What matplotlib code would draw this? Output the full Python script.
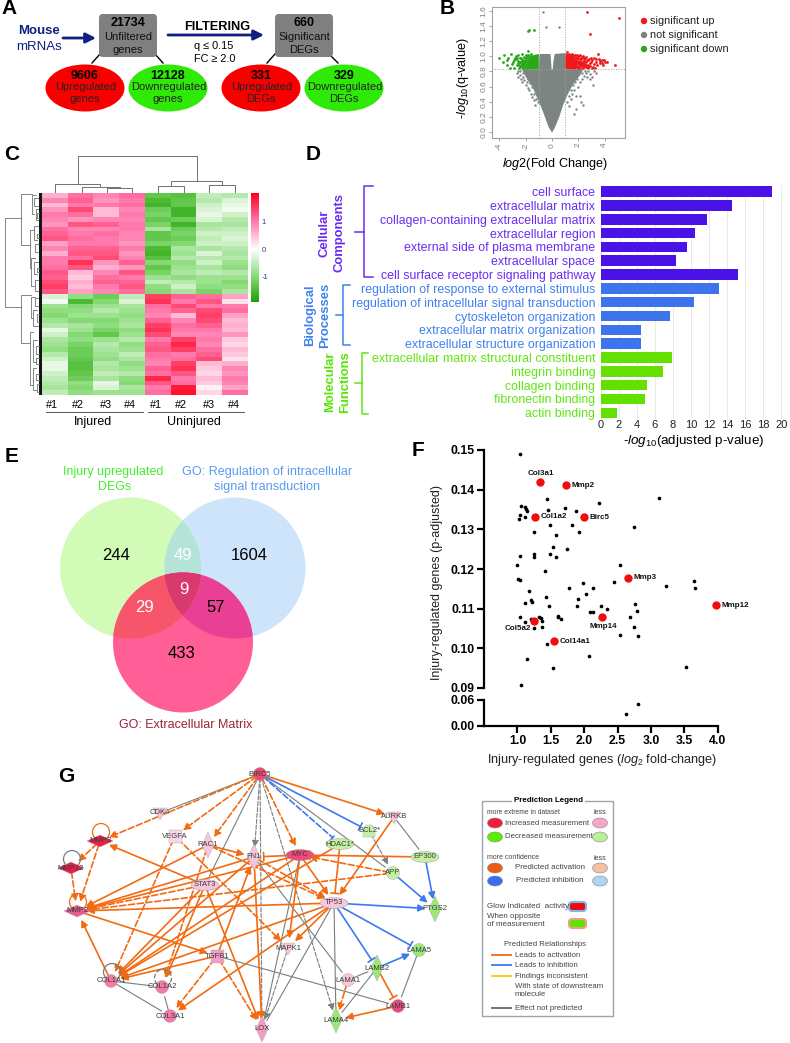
import numpy as np
import matplotlib
matplotlib.use('Agg')
import matplotlib.pyplot as plt
from matplotlib.patches import Circle, Ellipse, FancyBboxPatch, Polygon
from matplotlib.colors import LinearSegmentedColormap

plt.rcParams['font.family'] = ['Liberation Sans', 'DejaVu Sans']
plt.rcParams['mathtext.fontset'] = 'custom'
plt.rcParams['mathtext.rm'] = 'Liberation Sans'
plt.rcParams['mathtext.it'] = 'Liberation Sans:italic'
plt.rcParams['mathtext.bf'] = 'Liberation Sans:bold'

W, H = 790, 1043

# panel B values
up_x = [2.65, 5.05, 2.85, 1.1, 1.2, 1.25, 1.3, 1.4, 1.45, 1.5, 1.55, 1.6, 1.65, 1.7, 1.75, 1.8, 1.85, 1.9, 1.95, 2.0,
        2.05, 2.1, 2.15, 2.2, 2.25, 2.3, 2.35, 2.4, 2.45, 2.5, 2.55, 2.6, 2.7, 2.75, 2.8, 2.9, 2.95, 3.0, 3.05, 3.15,
        3.25, 3.35, 3.5, 3.55, 3.65, 3.75, 3.85, 3.95, 4.05, 4.15, 4.75, 3.2, 2.35, 1.95, 2.2, 1.75, 1.6, 2.55, 2.75, 1.35,
        1.7, 1.8, 1.9, 2.0, 2.1, 2.2, 2.3, 2.4, 1.75, 1.85, 1.95, 2.05, 2.15, 2.25, 2.35, 2.45, 2.6, 2.7, 2.85, 2.0,
        2.1, 2.3, 2.5, 1.9, 2.2, 2.65, 3.1, 3.4, 3.6, 3.8, 1.55, 1.65, 2.95, 3.3, 2.4, 2.05]
up_y = [1.58, 1.51, 1.30, 1.05, 0.99, 1.03, 0.9, 1.02, 0.95, 1.03, 0.88, 0.98, 1.0, 0.9, 1.01, 0.87, 0.96, 1.0, 0.9, 0.94,
        0.86, 1.02, 0.92, 0.96, 0.88, 0.99, 0.85, 0.95, 0.9, 0.97, 0.86, 0.92, 0.95, 0.88, 0.96, 0.87, 0.92, 0.84, 0.95, 0.9,
        0.85, 0.93, 1.03, 0.96, 0.94, 0.91, 0.88, 0.95, 0.93, 0.93, 0.88, 0.98, 1.0, 0.85, 0.88, 0.94, 1.02, 0.99, 0.85, 0.93,
        0.84, 0.92, 0.86, 0.98, 0.89, 0.93, 0.91, 0.87, 0.96, 0.98, 0.93, 0.91, 0.85, 0.99, 0.93, 0.98, 0.89, 0.86, 0.91, 0.86,
        0.96, 0.87, 0.88, 1.02, 0.9, 0.95, 0.86, 0.89, 0.91, 0.95, 0.93, 0.97, 0.97, 0.96, 0.92, 1.0]
down_x = [-1.85, -1.75, -1.4, -4.05, -3.7, -3.65, -3.45, -3.3, -3.2, -3.1, -3.05, -2.95, -2.9, -2.85, -2.8, -2.7, -2.65, -2.6,
          -2.55, -2.5, -2.45, -2.4, -2.35, -2.3, -2.25, -2.2, -2.15, -2.1, -2.05, -2.0, -1.95, -1.9, -1.85, -1.8, -1.75, -1.7,
          -1.65, -1.6, -1.55, -1.6, -1.7, -1.9, -2.15, -2.45, -2.75, -1.85, -2.0, -2.3, -1.55, -3.4,
          -1.7, -1.8, -1.9, -2.0, -2.1, -2.2, -2.3, -1.75, -1.85, -1.95, -2.05, -2.15, -2.25, -2.4, -2.55, -2.65, -1.65, -1.8,
          -2.0, -2.1, -2.35, -2.5, -1.9, -2.2]
down_y = [1.33, 1.34, 1.35, 0.97, 0.92, 1.02, 0.88, 0.97, 0.85, 1.03, 0.9, 0.93, 0.95, 0.85, 0.98, 1.0, 0.89, 0.94,
          1.01, 0.85, 0.93, 0.98, 0.89, 1.03, 0.9, 0.95, 0.99, 0.86, 0.92, 1.02, 0.97, 0.88, 1.07, 0.93, 0.85, 1.0,
          0.91, 0.96, 0.87, 1.03, 0.97, 1.0, 0.94, 0.92, 0.96, 0.86, 0.9, 0.87, 0.98, 0.95,
          0.84, 0.89, 0.93, 0.87, 0.91, 0.84, 0.95, 0.92, 0.98, 0.85, 0.97, 0.88, 0.93, 0.86, 0.91, 0.97, 0.95, 1.02,
          0.95, 0.93, 0.97, 0.89, 0.84, 0.88]
other_x = [-0.7, -0.45, 0.5, -2.65, -2.55, -2.45, -2.35, -2.3, -2.2, -2.1, -2.0, -1.9, -1.85, -1.75, -1.6, -1.5, -1.4, -1.3,
           1.3, 1.4, 1.55, 1.7, 1.8, 1.95, 2.1, 2.25, 2.4, 2.55, 2.7, 2.85, 3.0, 3.2, 3.1, 2.2, 2.35, 2.15, 1.85, 1.65, 2.9, 3.35,
           -2.6, -2.4, -2.2, -2.0, -1.8, -1.7, -1.55, -1.35, -1.2, -1.1, 1.1, 1.25, 1.45, 1.6, 1.75, 1.9, 2.05, 2.3, 2.5, 2.65]
other_y = [1.58, 1.39, 1.38, 0.78, 0.72, 0.75, 0.7, 0.66, 0.72, 0.68, 0.62, 0.66, 0.58, 0.55, 0.5, 0.46, 0.42, 0.36,
           0.34, 0.44, 0.5, 0.56, 0.48, 0.6, 0.66, 0.7, 0.74, 0.78, 0.8, 0.76, 0.72, 0.8, 0.62, 0.4, 0.36, 0.48, 0.3, 0.24, 0.7, 0.78,
           0.81, 0.8, 0.78, 0.76, 0.7, 0.64, 0.6, 0.5, 0.44, 0.4, 0.4, 0.48, 0.55, 0.62, 0.66, 0.7, 0.76, 0.78, 0.8, 0.72]
# outline of the dense part of the cloud, where single points cannot be counted
cloud_x = [0.0, 0.25, 0.55, 0.85, 1.2, 1.6, 2.0, 2.4, 1.0, 1.03, 0.9, 0.2, 0.1, 0.05, -0.03, -0.08, -0.12, -0.9, -0.96, -1.0, -2.3, -1.9, -1.5, -1.2, -0.85, -0.5, -0.25]
cloud_y = [-0.01, 0.07, 0.2, 0.36, 0.5, 0.63, 0.72, 0.83, 0.83, 1.03, 1.04, 1.03, 0.92, 0.82, 0.82, 0.94, 1.03, 1.03, 1.01, 0.83, 0.83, 0.7, 0.6, 0.48, 0.34, 0.18, 0.06]
up_block_x = [1.0, 1.85, 2.0, 1.6, 1.0]
up_block_y = [0.83, 0.83, 0.93, 1.0, 1.04]
down_block_x = [-1.0, -1.65, -1.9, -1.5, -1.0]
down_block_y = [0.83, 0.83, 0.93, 1.01, 1.03]

# panel C values, one row per stripe
heat_rows = [
    [0.6, 1.1, 0.9, 1.1, -1.3, -1.4, -0.5, -0.6],
    [0.9, 1.2, 0.8, 1.0, -1.5, -1.3, -0.6, -0.3],
    [0.5, 1.0, 1.0, 1.1, -1.6, -1.3, -0.4, -0.2],
    [0.8, 1.4, 0.5, 0.9, -1.2, -1.6, -0.3, -0.1],
    [1.0, 1.1, 0.5, 1.0, -1.1, -1.6, -0.2, -0.4],
    [0.9, 0.8, 0.9, 0.9, -1.3, -1.2, -0.3, -0.6],
    [0.8, 1.3, 1.2, 1.0, -1.1, -1.6, -0.7, -0.7],
    [1.1, 0.9, 0.9, 1.0, -0.7, -1.2, -0.6, -0.5],
    [1.2, 1.0, 1.1, 0.9, -1.3, -1.1, -0.4, -0.4],
    [1.3, 1.1, 1.0, 0.9, -1.3, -1.2, -0.5, -0.3],
    [0.7, 1.0, 1.0, 0.8, -1.1, -1.0, -0.4, -0.4],
    [0.9, 1.2, 1.2, 1.0, -1.5, -0.7, -0.7, -0.6],
    [0.6, 1.3, 1.3, 0.8, -1.6, -0.8, -0.3, -0.7],
    [1.0, 1.1, 1.4, 0.9, -1.4, -0.6, -0.6, -0.6],
    [1.0, 1.6, 0.8, 1.2, -1.0, -0.9, -0.4, -0.8],
    [1.1, 1.3, 0.6, 0.8, -1.3, -0.8, -0.7, -0.9],
    [1.3, 0.5, 0.9, 1.3, -1.1, -0.7, -0.5, -0.6],
    [1.2, 0.4, 1.1, 1.0, -0.8, -0.9, -0.8, -0.8],
    [1.4, 0.6, 1.2, 1.2, -0.5, -0.6, -0.8, -1.0],
    [1.5, 0.5, 1.0, 1.3, -0.9, -0.4, -0.9, -0.9],
    [1.3, 0.7, 0.9, 1.1, -1.0, -0.7, -1.1, -0.7],
    [-0.3, -0.9, -1.2, -0.5, 1.5, 1.2, 1.1, 0.7],
    [-0.1, -1.5, -1.0, -0.3, 1.6, 1.0, 1.3, 0.2],
    [-0.8, -1.0, -0.8, -0.7, 1.1, 1.4, 1.0, 1.0],
    [-0.9, -0.9, -0.6, -0.8, 1.0, 1.2, 1.4, 1.1],
    [-1.0, -0.8, -0.8, -0.9, 0.9, 0.5, 1.5, 0.7],
    [-0.8, -1.0, -1.0, -0.8, 1.2, 0.9, 1.4, 0.5],
    [-0.6, -0.7, -0.9, -0.7, 1.5, 1.1, 1.2, 0.6],
    [-0.2, -0.8, -1.1, -0.9, 1.6, 1.0, 1.0, 0.5],
    [-0.4, -1.0, -1.3, -0.8, 1.4, 0.9, 0.9, 0.8],
    [-0.7, -0.9, -0.8, -0.6, 1.0, 1.5, 1.0, 0.4],
    [-0.8, -1.1, -0.6, -0.9, 1.2, 1.7, 0.9, 0.3],
    [-0.9, -1.2, -0.7, -0.8, 1.3, 1.5, 1.1, 0.5],
    [-0.6, -1.2, -0.8, -0.5, 1.1, 1.0, 1.2, 0.4],
    [-0.4, -1.3, -0.9, -0.7, 1.0, 1.1, 1.4, 0.2],
    [-0.2, -1.4, -0.6, -0.9, 0.9, 1.5, 0.5, 0.6],
    [-0.2, -1.4, -0.7, -0.8, 1.2, 1.6, 0.4, 0.9],
    [-0.4, -1.3, -0.5, -0.6, 1.1, 1.3, 0.3, 0.8],
    [-0.5, -1.2, -0.7, -0.9, 1.7, 1.0, 0.5, 1.0],
    [-0.6, -0.9, -0.2, -1.0, 1.3, 1.1, 0.4, 0.9],
    [-0.7, -1.0, -0.3, -0.7, 1.0, 1.8, 0.1, 0.7],
    [-0.5, -0.9, -0.8, -0.8, 1.1, 1.9, 0.3, 1.1],
]
col_labels = ['#1', '#2', '#3', '#4', '#1', '#2', '#3', '#4']

# panel D values
go_terms = ['cell surface', 'extracellular matrix', 'collagen-containing extracellular matrix', 'extracellular region',
            'external side of plasma membrane', 'extracellular space', 'cell surface receptor signaling pathway',
            'regulation of response to external stimulus', 'regulation of intracellular signal transduction',
            'cytoskeleton organization', 'extracellular matrix organization', 'extracellular structure organization',
            'extracellular matrix structural constituent', 'integrin binding', 'collagen binding', 'fibronectin binding',
            'actin binding']
go_values = [18.95, 14.5, 11.75, 10.4, 9.6, 8.35, 15.2, 13.1, 10.3, 7.65, 4.5, 4.45, 7.9, 6.85, 5.1, 4.9, 1.75]
go_groups = [0, 0, 0, 0, 0, 0, 0, 1, 1, 1, 1, 1, 2, 2, 2, 2, 2]

# panel F values
fc = [1.045, 1.055, 1.115, 1.125, 1.14, 1.04, 1.03, 1.115, 1.275, 1.445, 1.455, 1.72, 1.875, 2.22, 3.115, 2.75, 1.49, 1.825,
      1.925, 1.245, 1.585, 1.54, 1.75, 1.495, 1.255, 1.255, 1.04, 1.585, 1.0, 1.41, 2.54, 1.005, 1.035, 1.98, 2.45, 3.64,
      3.665, 3.22, 1.77, 2.125, 1.17, 2.035, 1.425, 1.905, 1.21, 1.22, 1.11, 2.765, 1.48, 1.89, 2.245, 2.34, 2.09, 2.13,
      2.79, 2.69, 1.04, 1.2, 1.33, 1.35, 1.605, 1.605, 1.655, 1.115, 1.245, 1.365, 1.365, 1.245, 2.74, 2.53, 2.80, 1.45,
      2.07, 1.14, 1.535, 3.52, 1.055]
padj = [.1491, .1359, .1356, .1352, .1347, .1335, .1326, .1331, .1331, .1377, .1349, .1354, .1345, .1366, .1380, .1305, .1311, .1310,
        .1294, .1294, .1285, .1256, .1250, .1238, .1239, .1231, .1232, .1229, .1209, .1195, .1211, .1176, .1172, .1165, .1166, .1171,
        .1151, .1156, .1152, .1151, .1145, .1137, .1130, .1124, .1121, .1118, .1114, .1112, .1106, .1106, .1107, .1100, .1092, .1092,
        .1094, .1079, .1078, .1074, .1078, .1077, .1082, .1079, .1075, .1066, .1069, .1068, .1054, .1052, .1055, .1033, .1030, .1010,
        .0981, .0972, .0950, .0952, .0907]
low_fc = [2.805, 2.63]
low_padj = [0.05, 0.027]
hit_names = ['Col3a1', 'Mmp2', 'Col1a2', 'Birc5', 'Mmp3', 'Mmp12', 'Mmp14', 'Col5a2', 'Col14a1']
hit_fc = [1.335, 1.725, 1.26, 2.0, 2.65, 3.98, 2.26, 1.245, 1.545]
hit_padj = [.1419, .1411, .1332, .1331, .1178, .1109, .1080, .1070, .1018]
hit_offset = [(1, 6), (4, 0), (4, 0), (4, 0), (4, 0), (4, 0), (1, -7), (-2, -6), (4, 0)]
hit_align = ['center', 'left', 'left', 'left', 'left', 'left', 'center', 'right', 'left']

# panel E counts
venn_counts = ['244', '49', '1604', '9', '29', '57', '433']
venn_color = ['black', 'white', 'black', 'white', 'white', 'black', 'black']
venn_px = [(116, 555), (183, 555), (249.5, 555), (184, 589), (145, 608), (216, 608), (181, 654)]

# panel G network
PK, PKD, RD, LG, GR, WP = '#f7c6dc', '#f07aa8', '#e8204a', '#c4f0a4', '#9be77a', '#f9d6e6'
nodes = {
    'BIRC5': (260, 774, 'circle', '#e84a70'), 'CDK4': (160, 813, 'tri', PK), 'VEGFA': (175, 836, 'square', WP),
    'RAC1': (208, 845, 'diamond', PK), 'MMP3': (100, 841, 'flat', RD), 'MMP12': (71, 868, 'flat', RD),
    'MMP2': (77, 911, 'flat', '#e85a90'), 'STAT3': (205, 885, 'ellipse', PK), 'TGFB1': (217, 956, 'square', '#f49cc4'),
    'COL1A1': (111, 981, 'circle', PKD), 'COL1A2': (162, 987, 'circle', PKD), 'COL3A1': (170, 1016, 'circle', PKD),
    'FN1': (254, 857, 'diamond', PK), 'MYC': (300, 855, 'ellipse', '#ee4a78'), 'HDAC1*': (340, 844, 'ellipse', LG),
    'BCL2*': (369, 831, 'penta', LG), 'AURKB': (394, 817, 'tri', PK), 'EP300': (425, 857, 'ellipse', LG),
    'APP': (393, 873, 'circle', LG), 'TP53': (334, 903, 'ellipse', PK), 'PTGS2': (435, 909, 'diamond', GR),
    'MAPK1': (288, 948, 'tri', PK), 'LAMA5': (419, 950, 'circle', GR), 'LAMB2': (377, 968, 'diamond', GR),
    'LAMA1': (348, 980, 'circle', PK), 'LAMB1': (398, 1006, 'circle', '#e84a80'), 'LAMA4': (336, 1020, 'diamond', GR),
    'LOX': (262, 1029, 'diamond', '#f59cc4'),
}
edges_act = [('BIRC5', 'AURKB'), ('FN1', 'MMP2'), ('MYC', 'MMP2'), ('TP53', 'MMP2'), ('FN1', 'COL1A1'), ('MYC', 'COL1A1'),
             ('TP53', 'COL1A1'), ('HDAC1*', 'COL1A1'), ('STAT3', 'COL1A1'), ('STAT3', 'COL1A2'), ('STAT3', 'MMP3'),
             ('STAT3', 'LOX'), ('RAC1', 'MMP2'), ('RAC1', 'FN1'), ('COL1A1', 'MMP2'), ('MMP2', 'TGFB1'), ('TGFB1', 'COL1A1'),
             ('TGFB1', 'FN1'), ('TP53', 'COL3A1'), ('TP53', 'MAPK1'), ('MYC', 'TP53'), ('MYC', 'MAPK1'), ('FN1', 'LOX'),
             ('AURKB', 'TP53'), ('LAMB1', 'LAMA4')]
edges_act_dash = [('BIRC5', 'VEGFA'), ('BIRC5', 'RAC1'), ('BIRC5', 'MMP3'), ('BIRC5', 'MYC'), ('STAT3', 'MMP2'), ('RAC1', 'COL1A2'),
                  ('RAC1', 'TP53'), ('VEGFA', 'COL1A1'), ('VEGFA', 'MAPK1'), ('MMP3', 'MMP12'), ('MMP12', 'MMP2'), ('MMP3', 'MMP2'),
                  ('TGFB1', 'LOX'), ('FN1', 'TP53'), ('APP', 'MMP2'), ('APP', 'MYC'), ('LAMA1', 'LAMA4'), ('TGFB1', 'COL3A1')]
edges_tee = [('EP300', 'MYC'), ('HDAC1*', 'TP53'), ('LAMB2', 'LAMB1'), ('MYC', 'FN1')]
edges_inh = [('EP300', 'PTGS2'), ('APP', 'PTGS2'), ('TP53', 'PTGS2'), ('LAMB2', 'LAMA5')]
edges_inh_tee = [('BIRC5', 'BCL2*'), ('TP53', 'LAMA5'), ('TP53', 'LAMB2')]
edges_gray = [('BIRC5', 'CDK4'), ('BIRC5', 'APP'), ('BIRC5', 'STAT3'), ('COL1A1', 'COL1A2'), ('COL3A1', 'COL1A2'), ('COL1A1', 'COL3A1'),
              ('TGFB1', 'LAMB1'), ('TP53', 'LOX'), ('TP53', 'LAMA4'), ('MYC', 'LOX'), ('FN1', 'LAMA1'), ('AURKB', 'EP300'),
              ('LAMA5', 'LAMB1'), ('LAMA1', 'LAMB2'), ('LAMB2', 'LAMA4')]
edges_gray_dash = [('BIRC5', 'FN1'), ('BIRC5', 'LAMA4'), ('BIRC5', 'LOX'), ('BCL2*', 'APP'), ('MAPK1', 'LOX')]
self_loops = [('MMP3', '#f26a12', '-'), ('MMP12', '#76807e', '-'), ('MMP2', '#f26a12', '-'), ('COL1A1', '#76807e', '-'), ('COL1A2', '#76807e', '--')]


def px_axes(left, top, right, bottom):
    return fig.add_axes([left / W, 1 - bottom / H, (right - left) / W, (bottom - top) / H])


def txt(x, y, s, size=8, color='black', weight='normal', ha='center', va='center', rot=0, **kw):
    return ax.text(x, y, s, fontsize=size, color=color, fontweight=weight, ha=ha, va=va, rotation=rot, **kw)


fig = plt.figure(figsize=(W / 100, H / 100), dpi=100)
ax = fig.add_axes([0, 0, 1, 1])
ax.set_xlim(0, W)
ax.set_ylim(H, 0)
ax.axis('off')

for letter, lx, ly in [('A', 1, 9), ('B', 440, 9), ('C', 4, 155), ('D', 306, 155), ('E', 5, 457), ('F', 412, 450), ('G', 58, 776)]:
    txt(lx, ly, letter, size=15, weight='bold', ha='left')

# ---- A ----
NAVY = '#10207f'
txt(39, 31, 'Mouse', size=9.5, color=NAVY, weight='bold')
txt(39, 47, 'mRNAs', size=9.5, color=NAVY)
for x0, x1, yy in [(63, 96, 38), (168, 264, 35)]:
    ax.annotate('', xy=(x1, yy), xytext=(x0, yy), arrowprops=dict(arrowstyle='-|>,head_width=0.3,head_length=0.6', color=NAVY, lw=2, shrinkA=0, shrinkB=0))
txt(217, 27, 'FILTERING', size=9.2, weight='bold')
txt(214, 46, 'q ≤ 0.15', size=7.8)
txt(215, 59, 'FC ≥ 2.0', size=7.8)
for x0, x1, y0, y1 in [(100, 92, 54, 63), (155, 163, 54, 63), (275, 267, 54, 63), (330, 338, 55, 63)]:
    ax.plot([x0, x1], [y0, y1], color='black', lw=1)
for bx, num, l1, l2 in [(99, '21734', 'Unfiltered', 'genes'), (275, '660', 'Significant', 'DEGs')]:
    ax.add_patch(FancyBboxPatch((bx + 4, 18), 50, 35, boxstyle='round,pad=4', fc='#808080', ec='none', zorder=2))
    txt(bx + 29, 23, num, size=9, weight='bold', zorder=3)
    txt(bx + 29, 37, l1, size=8, color='#111111', zorder=3)
    txt(bx + 29, 50, l2, size=8, color='#111111', zorder=3)
for cx, col, num, l1, l2 in [(85, '#f80000', '9606', 'Upregulated', 'genes'), (168, '#2eea06', '12128', 'Downregulated', 'genes'),
                             (261, '#f80000', '331', 'Upregulated', 'DEGs'), (344, '#2eea06', '329', 'Downregulated', 'DEGs')]:
    ax.add_patch(Ellipse((cx, 88), 79, 47, fc=col, ec='none', zorder=2))
    txt(cx, 76, num, size=9, weight='bold', zorder=3)
    txt(cx + 1, 87, l1, size=8, color='#222222', zorder=3)
    txt(cx, 99, l2, size=8, color='#222222', zorder=3)

# ---- B ----
axb = px_axes(492, 7, 625, 138)
axb.fill(cloud_x, cloud_y, color='#7d8583', lw=0)
axb.scatter(other_x, other_y, s=3, color='#7d8583', lw=0)
axb.fill(up_block_x, up_block_y, color='#f01818', lw=0)
axb.fill(down_block_x, down_block_y, color='#2aa81a', lw=0)
axb.scatter(up_x, up_y, s=4, color='#f01818', lw=0)
axb.scatter(down_x, down_y, s=4, color='#2aa81a', lw=0)
axb.axvline(-1, color='#9aa5a0', lw=0.7, ls=':')
axb.axvline(1, color='#9aa5a0', lw=0.7, ls=':')
axb.axhline(0.83, color='#9aa5a0', lw=0.7, ls=':')
axb.set_xlim(-4.55, 5.53)
axb.set_ylim(-0.08, 1.65)
axb.set_xticks([-4, -2, 0, 2, 4])
axb.set_xticklabels(['-4', '-2', '0', '2', '4'])
axb.set_yticks([0, 0.2, 0.4, 0.6, 0.8, 1.0, 1.2, 1.4, 1.6])
axb.set_yticklabels(['0.0', '0.2', '0.4', '0.6', '0.8', '1.0', '1.2', '1.4', '1.6'])
axb.tick_params(labelsize=6, colors='#808080', length=2, width=0.5, pad=1.5)
axb.tick_params(axis='x', labelrotation=90)
axb.tick_params(axis='y', labelrotation=90)
for lab in axb.get_yticklabels():
    lab.set_va('center')
for s in axb.spines.values():
    s.set_color('#9aa5a0')
    s.set_linewidth(0.8)
axb.patch.set_alpha(0)
txt(555, 164, r'$\mathit{log2}$(Fold Change)', size=9.1)
txt(463, 78, r'-$\mathit{log_{10}}$(q-value)', size=9.1, rot=90)
for yy, col, s in [(21, '#f01818', 'significant up'), (35, '#808080', 'not significant'), (49, '#2aa81a', 'significant down')]:
    ax.add_patch(Circle((644, yy), 3.2, fc=col, ec='none'))
    txt(650, yy, s, size=7.9, ha='left', color='#222222')

# ---- C ----
heat_cmap = LinearSegmentedColormap.from_list('gw', [(0, '#1fa000'), (0.24, '#88dc78'), (0.485, '#ffffff'), (0.74, '#ff78ac'), (1, '#ff0018')])
axc = px_axes(42, 193, 248, 395)
im = axc.imshow(np.array(heat_rows), aspect='auto', cmap=heat_cmap, vmin=-1.93, vmax=2.05, interpolation='nearest')
axc.axis('off')
cax = px_axes(251, 193, 259, 302)
cb = fig.colorbar(im, cax=cax)
cb.set_ticks([-1, 0, 1])
cb.set_ticklabels(['-1', '0', '1'])
cb.ax.tick_params(labelsize=5.5, length=0, colors='#2a3a80', pad=2)
cb.outline.set_visible(False)
for i, s in enumerate(col_labels):
    txt([52, 78, 106, 130, 156, 181, 209, 234][i], 405, s, size=7.8)
for x0, x1 in [(46, 143), (148, 244)]:
    ax.plot([x0, x1], [412, 412], color='#555555', lw=0.7)
txt(93, 422, 'Injured', size=9)
txt(194, 422, 'Uninjured', size=9)
GRY = '#6d7371'
# top tree, [x0, x1, level y, bottom of x0, bottom of x1]
top_tree = [(78, 197, 156, 184, 181), (55, 100, 184, 193, 187), (82, 120, 187, 193, 188), (107, 132, 188, 193, 193),
            (171, 222, 181, 186, 185), (158, 184, 186, 193, 193), (209, 235, 185, 193, 193)]
for x0, x1, yy, b0, b1 in top_tree:
    ax.plot([x0, x0, x1, x1], [b0, yy, yy, b1], color=GRY, lw=0.7)
# left tree, [x of bracket, y top, y bottom, x end top, x end bottom]
left_tree = [(4.5, 218, 307, 21, 21), (21, 194, 245, 32, 30), (21, 295, 343, 31, 30), (32, 195, 214, 36, 34), (30, 230, 268, 34, 31),
             (31, 258, 286, 35, 34), (31, 297, 318, 35, 33), (30, 332, 385, 33, 33), (34, 198, 206, 38, 38), (36, 209, 220, 38, 38),
             (34, 226, 240, 38, 37), (35, 244, 252, 38, 38), (34, 262, 274, 38, 37), (35, 280, 291, 38, 38), (35, 298, 306, 38, 38),
             (33, 310, 326, 37, 38), (33, 340, 362, 37, 36), (33, 368, 390, 36, 37), (37, 213, 218, 39, 39), (37, 234, 238, 39, 39),
             (37, 268, 272, 39, 39), (37, 314, 322, 39, 39), (36, 346, 354, 39, 39), (36, 358, 364, 39, 39), (36, 374, 380, 39, 39),
             (37, 384, 392, 39, 39)]
for xb, y0, y1, x0, x1 in left_tree:
    ax.plot([x0, xb, xb, x1], [y0, y0, y1, y1], color=GRY, lw=0.6)
ax.add_patch(plt.Rectangle((38.5, 193), 3.5, 202, fc='#151515', ec='none'))

# ---- D ----
go_bar_col = ['#4a12e6', '#3d74ec', '#63e000']
go_txt_col = ['#6a2cf2', '#3f80f0', '#5fe610']
axd = px_axes(600.7, 185, 786, 419)
ypos = np.arange(len(go_terms))
axd.barh(ypos, go_values, height=0.76, color=[go_bar_col[g] for g in go_groups], zorder=2)
axd.set_ylim(len(go_terms) - 0.55, -0.48)
axd.set_xlim(0, 20.5)
axd.set_xticks(range(0, 21, 2))
axd.set_yticks(ypos)
axd.set_yticklabels(go_terms, fontsize=8.95)
for lab, g in zip(axd.get_yticklabels(), go_groups):
    lab.set_color(go_txt_col[g])
axd.tick_params(axis='y', length=0, pad=4)
axd.tick_params(axis='x', length=0, labelsize=8, colors='#222222', pad=1)
axd.grid(axis='x', color='#e6e6e6', lw=0.6, zorder=0)
for s in axd.spines.values():
    s.set_visible(False)
axd.patch.set_alpha(0)
txt(694, 441, r'-$\mathit{log_{10}}$(adjusted p-value)', size=9.6)
for g, xv, top, bot, hook, xm, ym in [(0, 364, 186, 277, 373, 355, 232), (1, 343, 285, 345, 350, 336, 315), (2, 362, 353, 414, 368, 355, 383)]:
    ax.plot([hook, xv, xv, hook], [top, top, bot, bot], color=go_txt_col[g], lw=1.1)
    ax.plot([xm, xv], [ym, ym], color=go_txt_col[g], lw=1.1)
txt(332, 233, 'Cellular\nComponents', size=9.4, color=go_txt_col[0], weight='bold', rot=90, linespacing=1.35)
txt(318, 315, 'Biological\nProcesses', size=9.4, color=go_txt_col[1], weight='bold', rot=90, linespacing=1.35)
txt(338, 382, 'Molecular\nFunctions', size=9.4, color='#56e600', weight='bold', rot=90, linespacing=1.35)

# ---- E ----
cg, cb2, cp = (130.5, 568, 70.5), (235, 568, 70.5), (183, 642.5, 70)
circ_g = Circle(cg[:2], cg[2], fc='#d2fbb8', ec='none')
circ_b = Circle(cb2[:2], cb2[2], fc='#cde4fb', ec='none')
circ_p = Circle(cp[:2], cp[2], fc='#ff5f96', ec='none')
ax.add_patch(circ_g)
ax.add_patch(circ_b)
gb = ax.add_patch(Circle(cb2[:2], cb2[2], fc='#b4e3d8', ec='none'))
gb.set_clip_path(circ_g)
ax.add_patch(circ_p)
pg = ax.add_patch(Circle(cp[:2], cp[2], fc='#f7566a', ec='none'))
pg.set_clip_path(circ_g)
pb = ax.add_patch(Circle(cp[:2], cp[2], fc='#ea4094', ec='none'))
pb.set_clip_path(circ_b)
t = np.radians(np.arange(0, 360, 2))
lens_a = np.c_[cg[0] + cg[2] * np.cos(t), cg[1] + cg[2] * np.sin(t)]
lens_a = lens_a[np.hypot(lens_a[:, 0] - cb2[0], lens_a[:, 1] - cb2[1]) < cb2[2]]
lens_b = np.c_[cb2[0] + cb2[2] * np.cos(t), cb2[1] + cb2[2] * np.sin(t)]
lens_b = lens_b[np.hypot(lens_b[:, 0] - cg[0], lens_b[:, 1] - cg[1]) < cg[2]]
lens = np.vstack([lens_a, lens_b])
lens = lens[np.argsort(np.arctan2(lens[:, 1] - 568, lens[:, 0] - 182.75))]
pgb = ax.add_patch(Polygon(lens, fc='#d93a6e', ec='none'))
pgb.set_clip_path(circ_p)
for s, col, (vx, vy) in zip(venn_counts, venn_color, venn_px):
    txt(vx, vy, s, size=12, color=col)
txt(113, 472, 'Injury upregulated', size=9, color='#45ee30')
txt(115, 487, 'DEGs', size=9, color='#45ee30')
txt(267, 472, 'GO: Regulation of intracellular', size=9.1, color='#5a9cf0')
txt(267, 487, 'signal transduction', size=9.1, color='#5a9cf0')
txt(186, 725, 'GO: Extracellular Matrix', size=9, color='#9c2238')

# ---- F ----
axf = px_axes(484, 450, 717.7, 688)
axl = px_axes(484, 700, 717.7, 726)
axf.scatter(fc, padj, s=7, color='black', lw=0, zorder=2)
axf.scatter(hit_fc, hit_padj, s=36, color='#f00d0d', lw=0, zorder=3, clip_on=False)
for name, hx, hy, off, al in zip(hit_names, hit_fc, hit_padj, hit_offset, hit_align):
    axf.annotate(name, (hx, hy), xytext=off, textcoords='offset points', fontsize=5.8, fontweight='bold', ha=al, va='center', color='#111111',
                 annotation_clip=False)
axl.scatter(low_fc, low_padj, s=7, color='black', lw=0, clip_on=False)
axf.set_xlim(0.5, 4.0)
axl.set_xlim(0.5, 4.0)
axf.set_ylim(0.09, 0.15)
axl.set_ylim(0, 0.06)
axf.set_yticks([0.09, 0.10, 0.11, 0.12, 0.13, 0.14, 0.15])
axf.set_yticklabels(['0.09', '0.10', '0.11', '0.12', '0.13', '0.14', '0.15'])
axl.set_yticks([0, 0.06])
axl.set_yticklabels(['0.00', '0.06'])
axf.set_xticks([])
axl.set_xticks([1.0, 1.5, 2.0, 2.5, 3.0, 3.5, 4.0])
for a in (axf, axl):
    a.patch.set_alpha(0)
    a.spines['top'].set_visible(False)
    a.spines['right'].set_visible(False)
    a.spines['left'].set_linewidth(1.6)
    a.spines['bottom'].set_linewidth(1.6)
    a.tick_params(length=5, width=1.6, pad=1.5, labelsize=8.8)
    for lab in a.get_xticklabels() + a.get_yticklabels():
        lab.set_fontweight('bold')
axf.spines['bottom'].set_visible(False)
txt(437, 583, 'Injury-regulated genes (p-adjusted)', size=9, rot=90, color='#222222')
txt(602.5, 760, r'Injury-regulated genes ($\mathit{log_2}$ fold-change)', size=9.05, color='#222222')

# ---- G ----
ORANGE, BLUE, GRAYE = '#f26a12', '#3b7af0', '#76807e'


def draw_edge(a, b, col, ls='-', tee=False, arrow=True, lw=1.2):
    style = '-|>,head_width=0.2,head_length=0.4' if arrow else '-'
    if tee:
        style = '-[,widthB=0.3,lengthB=0'
    ax.annotate('', xy=nodes[b][:2], xytext=nodes[a][:2], zorder=3,
                arrowprops=dict(arrowstyle=style, color=col, lw=lw, ls=ls, shrinkA=3, shrinkB=7))


for a, b in edges_gray:
    draw_edge(a, b, GRAYE, arrow=False, lw=0.8)
for a, b in edges_gray_dash:
    draw_edge(a, b, GRAYE, ls='--', lw=0.8)
for a, b in edges_act:
    draw_edge(a, b, ORANGE)
for a, b in edges_act_dash:
    draw_edge(a, b, ORANGE, ls='--')
for a, b in edges_tee:
    draw_edge(a, b, ORANGE, tee=True)
for a, b in edges_inh:
    draw_edge(a, b, BLUE)
for a, b in edges_inh_tee:
    draw_edge(a, b, BLUE, tee=True)
draw_edge('BIRC5', 'HDAC1*', BLUE, ls='--', tee=True)
for name, col, ls in self_loops:
    nx, ny = nodes[name][:2]
    ax.add_patch(Circle((nx + 1, ny - 9), 8.5, fc='none', ec=col, lw=0.9, ls=ls, zorder=3))

for name, (nx, ny, shape, col) in nodes.items():
    if shape == 'circle':
        p = Circle((nx, ny), 6.5, fc=col, ec='#aaaaaa', lw=0.3)
    elif shape == 'ellipse':
        rx = 14 if name in ('MYC', 'HDAC1*', 'TP53', 'EP300', 'STAT3') else 10
        p = Ellipse((nx, ny), 2 * rx, 11, fc=col, ec='#999999', lw=0.3)
    else:
        pts = {'diamond': [(0, -13), (6, 0), (0, 13), (-6, 0)], 'flat': [(-13, 0), (0, -6), (13, 0), (0, 6)],
               'square': [(-6.5, -6.5), (6.5, -6.5), (6.5, 6.5), (-6.5, 6.5)], 'tri': [(-7, -5), (7, -5), (0, 7)],
               'penta': [(-6, -2), (-3, -6), (3, -6), (6, -2), (6, 6), (-6, 6)]}[shape]
        p = Polygon([(nx + dx, ny + dy) for dx, dy in pts], fc=col, ec='#aaaaaa', lw=0.3)
    p.set_zorder(4)
    ax.add_patch(p)
    txt(nx, ny, name, size=5.5, color='#3a3a3a', zorder=5)

# legend
ax.add_patch(plt.Rectangle((482, 801), 131, 215, fc='none', ec='#9aa5ad', lw=1))
txt(548.5, 801, 'Prediction Legend', size=5.7, weight='bold', bbox=dict(fc='white', ec='none', pad=1.2))
LG_C = '#444444'
txt(487, 813, 'more extreme in dataset', size=4.9, ha='left', color=LG_C)
txt(600, 813, 'less', size=5, color=LG_C)
txt(505, 823.5, 'Increased measurement', size=5.6, ha='left', color=LG_C)
txt(505, 837, 'Decreased measurement', size=5.6, ha='left', color=LG_C)
txt(487, 857.5, 'more confidence', size=5, ha='left', color=LG_C)
txt(600, 858, 'less', size=5, color=LG_C)
txt(515, 867.5, 'Predicted activation', size=5.8, ha='left', color=LG_C)
txt(516, 881, 'Predicted inhibition', size=5.8, ha='left', color=LG_C)
for ex, ey, col in [(495, 823, '#f01c3c'), (600, 823, '#f7a6c8'), (495, 837, '#58f000'), (600, 837, '#b8f09a'),
                    (495, 868, '#ea5a14'), (600, 868, '#f5c0a0'), (495, 881, '#3a6cf0'), (600, 881, '#b0d4f2')]:
    ax.add_patch(Ellipse((ex, ey), 15, 10, fc=col, ec='#888888', lw=0.4))
txt(487, 906, 'Glow Indicated  activity', size=5.8, ha='left', color=LG_C)
txt(487, 916, 'When opposite', size=5.8, ha='left', color=LG_C)
txt(487, 925, 'of measurement', size=5.8, ha='left', color=LG_C)
ax.add_patch(FancyBboxPatch((572, 905), 11, 3, boxstyle='round,pad=3', fc='#ee0808', ec='#7ab8f0', lw=1.5))
ax.add_patch(FancyBboxPatch((572, 922), 11, 3, boxstyle='round,pad=3', fc='#58e800', ec='#f0a080', lw=1.5))
txt(504, 945, 'Predicted Relationships', size=5.6, ha='left', color=LG_C)
for ly, col in [(955, '#f26a12'), (965, '#3b7af0'), (976, '#f0d000'), (1008, '#5f6a68')]:
    ax.plot([492, 511], [ly, ly], color=col, lw=1.3)
txt(515, 955.5, 'Leads to activation', size=5.6, ha='left', color=LG_C)
txt(515, 965.5, 'Leads to inhibition', size=5.6, ha='left', color=LG_C)
txt(515, 976.5, 'Findings inconsistent', size=5.6, ha='left', color=LG_C)
txt(515, 986, 'With state of downstream', size=5.6, ha='left', color=LG_C)
txt(515, 995, 'molecule', size=5.6, ha='left', color=LG_C)
txt(515, 1008, 'Effect not predicted', size=5.6, ha='left', color=LG_C)

fig.savefig('out.png', dpi=100)
